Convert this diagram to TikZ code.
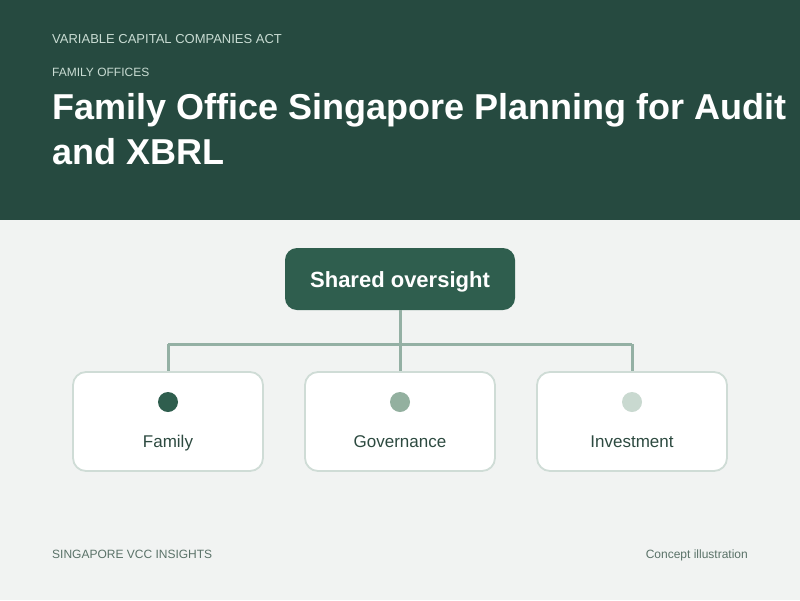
\documentclass[tikz,border=0pt]{standalone}
\usepackage{fontspec}
\setmainfont{Liberation Sans}
\definecolor{headbg}{HTML}{264A40}
\definecolor{pagebg}{HTML}{F1F3F2}
\definecolor{topbox}{HTML}{2F5E4E}
\definecolor{linkc}{HTML}{94B0A4}
\definecolor{cardborder}{HTML}{CFDCD6}
\definecolor{dotA}{HTML}{2F5E4E}
\definecolor{dotB}{HTML}{93B09F}
\definecolor{dotC}{HTML}{C9D9D0}
\definecolor{labelc}{HTML}{2D4A40}
\definecolor{kicker}{HTML}{C9DCD3}
\definecolor{footc}{HTML}{5A7268}
\begin{document}
\begin{tikzpicture}[x=1pt,y=-1pt,
  card/.style={draw=cardborder,line width=1.8pt,fill=white,rounded corners=13pt,minimum width=190pt,minimum height=99pt,inner sep=0pt},
  toptitle/.style={fill=topbox,rounded corners=12pt,minimum width=230pt,minimum height=62pt,inner sep=0pt},
  toptext/.style={text=white,font=\fontsize{22}{26}\selectfont\bfseries,anchor=base,inner sep=0pt},
  link/.style={draw=linkc,line width=3pt},
  cardlabel/.style={text=labelc,font=\fontsize{17}{20}\selectfont,inner sep=0pt,anchor=base},
  kick/.style={text=kicker,anchor=base west,inner sep=0pt},
  foot/.style={text=footc,font=\fontsize{12}{14}\selectfont,inner sep=0pt}]
\useasboundingbox (0,0) rectangle (800,600);
\fill[pagebg] (0,0) rectangle (800,600);
\fill[headbg] (0,0) rectangle (800,220);
\node[kick,font=\fontsize{13}{15}\selectfont] (k1) at (52,43) {VARIABLE CAPITAL COMPANIES ACT};
\node[kick,font=\fontsize{12}{14}\selectfont] (k2) at (52,76) {FAMILY OFFICES};
\node[text=white,anchor=base west,inner sep=0pt,font=\fontsize{36}{48}\selectfont\bfseries] (t1) at (52,119) {Family Office Singapore Planning for Audit};
\node[text=white,anchor=base west,inner sep=0pt,font=\fontsize{36}{48}\selectfont\bfseries] (t2) at (52,164) {and XBRL};
\node[toptitle] (top) at (400,279) {};
\node[toptext] (toplabel) at (400,287) {Shared oversight};
\node[card] (c1) at (168,421.5) {};
\node[card] (c2) at (400,421.5) {};
\node[card] (c3) at (632,421.5) {};
\coordinate (j) at (400,344);
\coordinate (l) at (168,344);
\coordinate (r) at (632,344);
\draw[link] (top.south) -- (j);
\draw[link] (l) -- (r);
\draw[link] (l) -- (c1.north);
\draw[link] (j) -- (c2.north);
\draw[link] (r) -- (c3.north);
\fill[dotA] (168,402) circle (10);
\fill[dotB] (400,402) circle (10);
\fill[dotC] (632,402) circle (10);
\node[cardlabel] (f1) at (168,447) {Family};
\node[cardlabel] (f2) at (400,447) {Governance};
\node[cardlabel] (f3) at (632,447) {Investment};
\node[foot,anchor=base west] (fl) at (52,558) {SINGAPORE VCC INSIGHTS};
\node[foot,anchor=base east] (fr) at (748,558) {Concept illustration};
\end{tikzpicture}
\end{document}
